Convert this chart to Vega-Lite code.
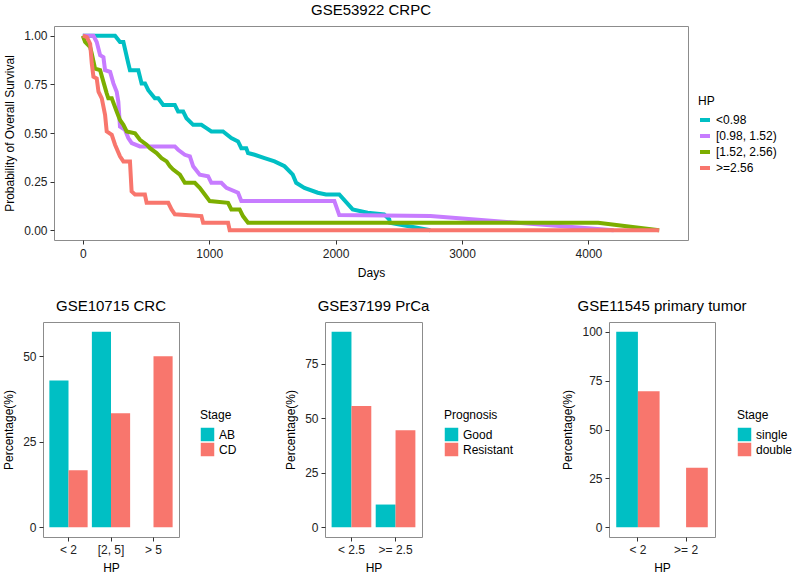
{
  "$schema": "https://vega.github.io/schema/vega-lite/v6.json",
  "padding": {"left": 2, "top": 2, "right": 0, "bottom": 0},
  "config": {
    "font": "Liberation Sans",
    "view": {"stroke": "#8c8c8c", "strokeWidth": 1},
    "axis": {"grid": false, "domain": false, "tickColor": "#333333", "tickSize": 4, "labelFontSize": 12, "labelColor": "#222222", "titleFontSize": 12, "titleFontWeight": "normal", "titleColor": "#000000", "labelPadding": 3, "titlePadding": 7},
    "title": {"fontSize": 15, "fontWeight": "normal", "offset": 8, "anchor": "middle"},
    "legend": {"titleFontSize": 12, "titleFontWeight": "normal", "labelFontSize": 12, "orient": "none", "padding": 0, "titlePadding": 5}
  },
  "datasets": {
    "none": [],
    "surv": [
      {"HP": "<0.98", "Days": 0, "Survival": 1.0},
      {"HP": "<0.98", "Days": 255, "Survival": 1.0},
      {"HP": "<0.98", "Days": 294, "Survival": 0.968},
      {"HP": "<0.98", "Days": 321, "Survival": 0.968},
      {"HP": "<0.98", "Days": 360, "Survival": 0.857},
      {"HP": "<0.98", "Days": 373, "Survival": 0.823},
      {"HP": "<0.98", "Days": 439, "Survival": 0.823},
      {"HP": "<0.98", "Days": 465, "Survival": 0.755},
      {"HP": "<0.98", "Days": 492, "Survival": 0.755},
      {"HP": "<0.98", "Days": 518, "Survival": 0.72},
      {"HP": "<0.98", "Days": 570, "Survival": 0.678},
      {"HP": "<0.98", "Days": 597, "Survival": 0.678},
      {"HP": "<0.98", "Days": 636, "Survival": 0.644},
      {"HP": "<0.98", "Days": 728, "Survival": 0.644},
      {"HP": "<0.98", "Days": 754, "Survival": 0.61},
      {"HP": "<0.98", "Days": 794, "Survival": 0.61},
      {"HP": "<0.98", "Days": 820, "Survival": 0.576},
      {"HP": "<0.98", "Days": 873, "Survival": 0.542},
      {"HP": "<0.98", "Days": 938, "Survival": 0.542},
      {"HP": "<0.98", "Days": 978, "Survival": 0.525},
      {"HP": "<0.98", "Days": 1017, "Survival": 0.508},
      {"HP": "<0.98", "Days": 1109, "Survival": 0.508},
      {"HP": "<0.98", "Days": 1175, "Survival": 0.474},
      {"HP": "<0.98", "Days": 1228, "Survival": 0.457},
      {"HP": "<0.98", "Days": 1254, "Survival": 0.422},
      {"HP": "<0.98", "Days": 1293, "Survival": 0.422},
      {"HP": "<0.98", "Days": 1307, "Survival": 0.397},
      {"HP": "<0.98", "Days": 1359, "Survival": 0.388},
      {"HP": "<0.98", "Days": 1438, "Survival": 0.371},
      {"HP": "<0.98", "Days": 1517, "Survival": 0.354},
      {"HP": "<0.98", "Days": 1596, "Survival": 0.329},
      {"HP": "<0.98", "Days": 1661, "Survival": 0.286},
      {"HP": "<0.98", "Days": 1688, "Survival": 0.244},
      {"HP": "<0.98", "Days": 1753, "Survival": 0.218},
      {"HP": "<0.98", "Days": 1859, "Survival": 0.193},
      {"HP": "<0.98", "Days": 1924, "Survival": 0.184},
      {"HP": "<0.98", "Days": 2029, "Survival": 0.184},
      {"HP": "<0.98", "Days": 2135, "Survival": 0.107},
      {"HP": "<0.98", "Days": 2253, "Survival": 0.09},
      {"HP": "<0.98", "Days": 2384, "Survival": 0.082},
      {"HP": "<0.98", "Days": 2424, "Survival": 0.056},
      {"HP": "<0.98", "Days": 2430, "Survival": 0.039},
      {"HP": "<0.98", "Days": 2750, "Survival": 0.0},
      {"HP": "[0.98, 1.52)", "Days": 0, "Survival": 1.0},
      {"HP": "[0.98, 1.52)", "Days": 84, "Survival": 1.0},
      {"HP": "[0.98, 1.52)", "Days": 110, "Survival": 0.968},
      {"HP": "[0.98, 1.52)", "Days": 137, "Survival": 0.9},
      {"HP": "[0.98, 1.52)", "Days": 163, "Survival": 0.89},
      {"HP": "[0.98, 1.52)", "Days": 176, "Survival": 0.823},
      {"HP": "[0.98, 1.52)", "Days": 216, "Survival": 0.814},
      {"HP": "[0.98, 1.52)", "Days": 242, "Survival": 0.755},
      {"HP": "[0.98, 1.52)", "Days": 268, "Survival": 0.712},
      {"HP": "[0.98, 1.52)", "Days": 281, "Survival": 0.661},
      {"HP": "[0.98, 1.52)", "Days": 294, "Survival": 0.533},
      {"HP": "[0.98, 1.52)", "Days": 334, "Survival": 0.516},
      {"HP": "[0.98, 1.52)", "Days": 360, "Survival": 0.474},
      {"HP": "[0.98, 1.52)", "Days": 387, "Survival": 0.448},
      {"HP": "[0.98, 1.52)", "Days": 452, "Survival": 0.431},
      {"HP": "[0.98, 1.52)", "Days": 728, "Survival": 0.431},
      {"HP": "[0.98, 1.52)", "Days": 754, "Survival": 0.414},
      {"HP": "[0.98, 1.52)", "Days": 807, "Survival": 0.388},
      {"HP": "[0.98, 1.52)", "Days": 847, "Survival": 0.38},
      {"HP": "[0.98, 1.52)", "Days": 873, "Survival": 0.329},
      {"HP": "[0.98, 1.52)", "Days": 925, "Survival": 0.286},
      {"HP": "[0.98, 1.52)", "Days": 991, "Survival": 0.278},
      {"HP": "[0.98, 1.52)", "Days": 1017, "Survival": 0.244},
      {"HP": "[0.98, 1.52)", "Days": 1096, "Survival": 0.244},
      {"HP": "[0.98, 1.52)", "Days": 1136, "Survival": 0.218},
      {"HP": "[0.98, 1.52)", "Days": 1228, "Survival": 0.193},
      {"HP": "[0.98, 1.52)", "Days": 1254, "Survival": 0.15},
      {"HP": "[0.98, 1.52)", "Days": 1990, "Survival": 0.15},
      {"HP": "[0.98, 1.52)", "Days": 2029, "Survival": 0.078},
      {"HP": "[0.98, 1.52)", "Days": 2750, "Survival": 0.073},
      {"HP": "[0.98, 1.52)", "Days": 4200, "Survival": 0.0},
      {"HP": "[1.52, 2.56)", "Days": 0, "Survival": 1.0},
      {"HP": "[1.52, 2.56)", "Days": 18, "Survival": 0.968},
      {"HP": "[1.52, 2.56)", "Days": 58, "Survival": 0.942},
      {"HP": "[1.52, 2.56)", "Days": 71, "Survival": 0.908},
      {"HP": "[1.52, 2.56)", "Days": 97, "Survival": 0.831},
      {"HP": "[1.52, 2.56)", "Days": 137, "Survival": 0.823},
      {"HP": "[1.52, 2.56)", "Days": 163, "Survival": 0.763},
      {"HP": "[1.52, 2.56)", "Days": 189, "Survival": 0.704},
      {"HP": "[1.52, 2.56)", "Days": 202, "Survival": 0.678},
      {"HP": "[1.52, 2.56)", "Days": 229, "Survival": 0.678},
      {"HP": "[1.52, 2.56)", "Days": 268, "Survival": 0.61},
      {"HP": "[1.52, 2.56)", "Days": 294, "Survival": 0.567},
      {"HP": "[1.52, 2.56)", "Days": 321, "Survival": 0.542},
      {"HP": "[1.52, 2.56)", "Days": 347, "Survival": 0.508},
      {"HP": "[1.52, 2.56)", "Days": 413, "Survival": 0.499},
      {"HP": "[1.52, 2.56)", "Days": 452, "Survival": 0.465},
      {"HP": "[1.52, 2.56)", "Days": 505, "Survival": 0.44},
      {"HP": "[1.52, 2.56)", "Days": 531, "Survival": 0.422},
      {"HP": "[1.52, 2.56)", "Days": 584, "Survival": 0.397},
      {"HP": "[1.52, 2.56)", "Days": 623, "Survival": 0.371},
      {"HP": "[1.52, 2.56)", "Days": 663, "Survival": 0.354},
      {"HP": "[1.52, 2.56)", "Days": 689, "Survival": 0.329},
      {"HP": "[1.52, 2.56)", "Days": 715, "Survival": 0.312},
      {"HP": "[1.52, 2.56)", "Days": 768, "Survival": 0.286},
      {"HP": "[1.52, 2.56)", "Days": 807, "Survival": 0.244},
      {"HP": "[1.52, 2.56)", "Days": 886, "Survival": 0.244},
      {"HP": "[1.52, 2.56)", "Days": 925, "Survival": 0.218},
      {"HP": "[1.52, 2.56)", "Days": 965, "Survival": 0.184},
      {"HP": "[1.52, 2.56)", "Days": 1004, "Survival": 0.15},
      {"HP": "[1.52, 2.56)", "Days": 1149, "Survival": 0.141},
      {"HP": "[1.52, 2.56)", "Days": 1175, "Survival": 0.107},
      {"HP": "[1.52, 2.56)", "Days": 1241, "Survival": 0.107},
      {"HP": "[1.52, 2.56)", "Days": 1267, "Survival": 0.073},
      {"HP": "[1.52, 2.56)", "Days": 1307, "Survival": 0.039},
      {"HP": "[1.52, 2.56)", "Days": 4077, "Survival": 0.039},
      {"HP": "[1.52, 2.56)", "Days": 4560, "Survival": 0.0},
      {"HP": ">=2.56", "Days": 0, "Survival": 1.0},
      {"HP": ">=2.56", "Days": 32, "Survival": 0.993},
      {"HP": ">=2.56", "Days": 58, "Survival": 0.959},
      {"HP": ">=2.56", "Days": 71, "Survival": 0.857},
      {"HP": ">=2.56", "Days": 84, "Survival": 0.789},
      {"HP": ">=2.56", "Days": 110, "Survival": 0.78},
      {"HP": ">=2.56", "Days": 124, "Survival": 0.712},
      {"HP": ">=2.56", "Days": 150, "Survival": 0.678},
      {"HP": ">=2.56", "Days": 176, "Survival": 0.593},
      {"HP": ">=2.56", "Days": 189, "Survival": 0.508},
      {"HP": ">=2.56", "Days": 229, "Survival": 0.491},
      {"HP": ">=2.56", "Days": 255, "Survival": 0.44},
      {"HP": ">=2.56", "Days": 294, "Survival": 0.38},
      {"HP": ">=2.56", "Days": 321, "Survival": 0.354},
      {"HP": ">=2.56", "Days": 373, "Survival": 0.354},
      {"HP": ">=2.56", "Days": 386, "Survival": 0.2},
      {"HP": ">=2.56", "Days": 413, "Survival": 0.184},
      {"HP": ">=2.56", "Days": 491, "Survival": 0.184},
      {"HP": ">=2.56", "Days": 505, "Survival": 0.141},
      {"HP": ">=2.56", "Days": 676, "Survival": 0.141},
      {"HP": ">=2.56", "Days": 702, "Survival": 0.107},
      {"HP": ">=2.56", "Days": 728, "Survival": 0.082},
      {"HP": ">=2.56", "Days": 938, "Survival": 0.073},
      {"HP": ">=2.56", "Days": 952, "Survival": 0.039},
      {"HP": ">=2.56", "Days": 1149, "Survival": 0.039},
      {"HP": ">=2.56", "Days": 1162, "Survival": 0.0},
      {"HP": ">=2.56", "Days": 4560, "Survival": 0.0}
    ],
    "crc": [
      {"HP": "< 2", "Stage": "AB", "Pct": 42.86},
      {"HP": "< 2", "Stage": "CD", "Pct": 16.67},
      {"HP": "[2, 5]", "Stage": "AB", "Pct": 57.14},
      {"HP": "[2, 5]", "Stage": "CD", "Pct": 33.33},
      {"HP": "> 5", "Stage": "AB", "Pct": 0},
      {"HP": "> 5", "Stage": "CD", "Pct": 50.0}
    ],
    "prca": [
      {"HP": "< 2.5", "Prognosis": "Good", "Pct": 89.6},
      {"HP": "< 2.5", "Prognosis": "Resistant", "Pct": 55.6},
      {"HP": ">= 2.5", "Prognosis": "Good", "Pct": 10.4},
      {"HP": ">= 2.5", "Prognosis": "Resistant", "Pct": 44.4}
    ],
    "tumor": [
      {"HP": "< 2", "Stage": "single", "Pct": 100},
      {"HP": "< 2", "Stage": "double", "Pct": 69.6},
      {"HP": ">= 2", "Stage": "single", "Pct": 0},
      {"HP": ">= 2", "Stage": "double", "Pct": 30.4}
    ]
  },
  "resolve": {"scale": {"color": "independent", "xOffset": "independent", "x": "independent", "y": "independent"}, "legend": {"color": "independent"}},
  "spacing": 19,
  "vconcat": [
    {
      "bounds": "flush",
      "spacing": 0,
      "hconcat": [
        {
          "width": 11,
          "height": 214,
          "data": {"name": "none"},
          "mark": "point",
          "encoding": {},
          "view": {"stroke": null}
        },
        {
          "width": 634,
          "height": 214,
          "title": "GSE53922 CRPC",
          "data": {"name": "surv"},
          "mark": {"type": "line", "strokeWidth": 4},
          "encoding": {
            "x": {"field": "Days", "type": "quantitative", "scale": {"domain": [-228, 4788], "nice": false, "zero": false}, "axis": {"values": [0, 1000, 2000, 3000, 4000], "format": "d", "title": "Days", "labelPadding": 4, "titlePadding": 8}},
            "y": {"field": "Survival", "type": "quantitative", "scale": {"domain": [-0.05, 1.05], "nice": false, "zero": false}, "axis": {"values": [0, 0.25, 0.5, 0.75, 1], "format": ".2f", "title": "Probability of Overall Survival"}},
            "color": {"field": "HP", "type": "nominal", "sort": ["<0.98", "[0.98, 1.52)", "[1.52, 2.56)", ">=2.56"],
              "scale": {"domain": ["<0.98", "[0.98, 1.52)", "[1.52, 2.56)", ">=2.56"], "range": ["#00BFC4", "#C77CFF", "#7CAE00", "#F8766D"]},
              "legend": {"title": "HP", "legendX": 655, "legendY": 70, "symbolType": "stroke", "symbolStrokeWidth": 4, "symbolSize": 100, "rowPadding": 0}}
          }
        }
      ]
    },
    {
      "hconcat": [
        {
          "width": 136,
          "height": 215,
          "title": "GSE10715 CRC",
          "data": {"name": "crc"},
          "mark": "bar",
          "encoding": {
            "x": {"field": "HP", "type": "nominal", "sort": ["< 2", "[2, 5]", "> 5"], "scale": {"paddingInner": 0.1, "paddingOuter": 0.15}, "axis": {"labelAngle": 0, "title": "HP"}},
            "xOffset": {"field": "Stage", "type": "nominal", "sort": ["AB", "CD"], "scale": {"paddingInner": 0, "paddingOuter": 0}},
            "y": {"field": "Pct", "type": "quantitative", "scale": {"domain": [-2.86, 60], "nice": false, "zero": false}, "axis": {"values": [0, 25, 50], "title": "Percentage(%)"}},
            "y2": {"datum": 0},
            "color": {"field": "Stage", "type": "nominal", "sort": ["AB", "CD"], "scale": {"domain": ["AB", "CD"], "range": ["#00BFC4", "#F8766D"]},
              "legend": {"title": "Stage", "legendX": 157, "legendY": 88, "symbolType": "square", "symbolSize": 182, "rowPadding": 0}}
          }
        },
        {
          "width": 97,
          "height": 215,
          "title": "GSE37199 PrCa",
          "data": {"name": "prca"},
          "mark": "bar",
          "encoding": {
            "x": {"field": "HP", "type": "nominal", "sort": ["< 2.5", ">= 2.5"], "scale": {"paddingInner": 0.1, "paddingOuter": 0.15}, "axis": {"labelAngle": 0, "title": "HP"}},
            "xOffset": {"field": "Prognosis", "type": "nominal", "sort": ["Good", "Resistant"], "scale": {"paddingInner": 0, "paddingOuter": 0}},
            "y": {"field": "Pct", "type": "quantitative", "scale": {"domain": [-4.48, 94.08], "nice": false, "zero": false}, "axis": {"values": [0, 25, 50, 75], "title": "Percentage(%)"}},
            "y2": {"datum": 0},
            "color": {"field": "Prognosis", "type": "nominal", "sort": ["Good", "Resistant"], "scale": {"domain": ["Good", "Resistant"], "range": ["#00BFC4", "#F8766D"]},
              "legend": {"title": "Prognosis", "legendX": 119, "legendY": 88, "symbolType": "square", "symbolSize": 182, "rowPadding": 0}}
          }
        },
        {
          "width": 106,
          "height": 215,
          "title": "GSE11545 primary tumor",
          "data": {"name": "tumor"},
          "mark": "bar",
          "encoding": {
            "x": {"field": "HP", "type": "nominal", "sort": ["< 2", ">= 2"], "scale": {"paddingInner": 0.1, "paddingOuter": 0.15}, "axis": {"labelAngle": 0, "title": "HP"}},
            "xOffset": {"field": "Stage", "type": "nominal", "sort": ["single", "double"], "scale": {"paddingInner": 0, "paddingOuter": 0}},
            "y": {"field": "Pct", "type": "quantitative", "scale": {"domain": [-5, 105], "nice": false, "zero": false}, "axis": {"values": [0, 25, 50, 75, 100], "title": "Percentage(%)"}},
            "y2": {"datum": 0},
            "color": {"field": "Stage", "type": "nominal", "sort": ["single", "double"], "scale": {"domain": ["single", "double"], "range": ["#00BFC4", "#F8766D"]},
              "legend": {"title": "Stage", "legendX": 128, "legendY": 88, "symbolType": "square", "symbolSize": 182, "rowPadding": 0}}
          }
        }
      ],
      "spacing": 46,
      "resolve": {"scale": {"color": "independent", "xOffset": "independent", "x": "independent", "y": "independent"}, "legend": {"color": "independent"}}
    }
  ]
}
